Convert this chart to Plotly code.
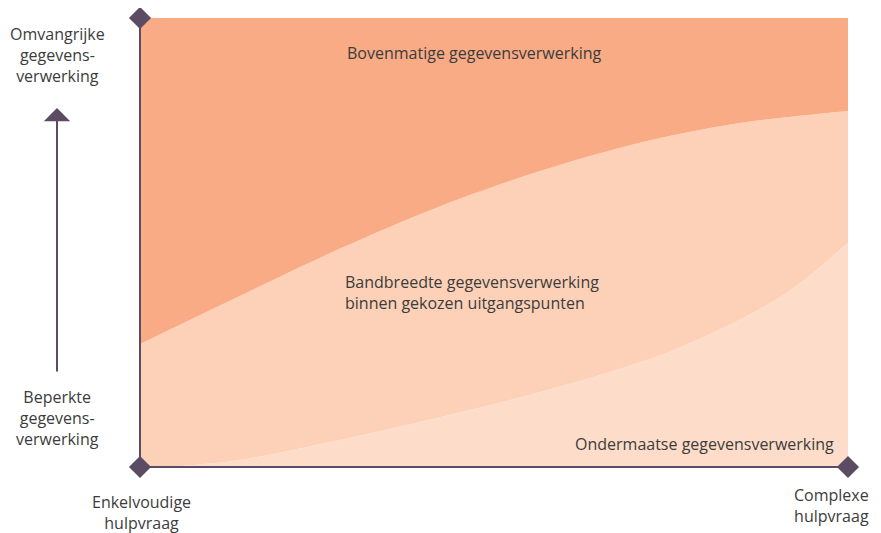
import plotly.graph_objects as go

# ---- data (normalised: x = complexity of help request, y = amount of data processing) ----
upper_x = [0.0, 0.141, 0.282, 0.424, 0.565, 0.706, 0.847, 1.0]
upper_y = [0.274, 0.381, 0.486, 0.581, 0.659, 0.722, 0.766, 0.793]

lower_x = [0.0, 0.035, 0.141, 0.282, 0.424, 0.508, 0.650, 0.750, 0.850, 0.920, 1.0]
lower_y = [0.0, 0.0, 0.0156, 0.060, 0.111, 0.143, 0.205, 0.258, 0.330, 0.395, 0.499]

band_labels = ["Bovenmatige gegevensverwerking",
               "Bandbreedte gegevensverwerking<br>binnen gekozen uitgangspunten",
               "Ondermaatse gegevensverwerking"]
y_labels = ["Omvangrijke<br>gegevens-<br>verwerking", "Beperkte<br>gegevens-<br>verwerking"]
x_labels = ["Enkelvoudige<br>hulpvraag", "Complexe<br>hulpvraag"]

TOP_C = "#F8AB85"
MID_C = "#FDD1B7"
LOW_C = "#FDDDC9"
AXIS_C = "#5B4B63"
TEXT_C = "#3C3C3C"
FONT = "Open Sans"

OFF = 8               # page body margin
W, H = 881 - OFF, 533 - OFF
X0, X1 = 140, 848     # page pixel positions of data x=0 and x=1
Y0, Y1 = 467, 18      # page pixel positions of data y=0 and y=1
PAD = 10
sx = (X1 - X0)
sy = (Y0 - Y1)

ML = X0 - PAD - OFF
MT = Y1 - PAD - OFF
PW = sx + 2 * PAD
PH = sy + 2 * PAD
MR = W - ML - PW
MB = H - MT - PH


def px(x):   # page pixel -> data x
    return (x - X0) / sx


def py(y):   # page pixel -> data y
    return (Y0 - y) / sy


def ppx(x):  # page pixel -> paper x
    return (x - OFF - ML) / PW


def ppy(y):  # page pixel -> paper y
    return 1 - (y - OFF - MT) / PH


fig = go.Figure()

# bottom band
fig.add_trace(go.Scatter(x=lower_x, y=lower_y, mode="lines", line=dict(width=0, shape="spline", smoothing=0.9),
                         fill="tozeroy", fillcolor=LOW_C, hoverinfo="skip"))
# middle band
fig.add_trace(go.Scatter(x=upper_x, y=upper_y, mode="lines", line=dict(width=0, shape="spline", smoothing=0.9),
                         fill="tonexty", fillcolor=MID_C, hoverinfo="skip"))
# top band
fig.add_trace(go.Scatter(x=[0, 1], y=[1, 1], mode="lines", line=dict(width=0),
                         fill="tonexty", fillcolor=TOP_C, hoverinfo="skip"))
# axes
fig.add_trace(go.Scatter(x=[0, 0, 1], y=[1, 0, 0], mode="lines", line=dict(color=AXIS_C, width=2),
                         hoverinfo="skip"))
fig.add_trace(go.Scatter(x=[0, 0, 1], y=[1, 0, 0], mode="markers", cliponaxis=False,
                         marker=dict(symbol="diamond", size=17, color=AXIS_C), hoverinfo="skip"))

# arrow
fig.add_annotation(x=ppx(57), y=ppy(108), ax=0, ay=373 - 108, xref="paper", yref="paper",
                   showarrow=True, arrowhead=1, arrowsize=2.2, arrowwidth=2, arrowcolor=AXIS_C, text="")

font = dict(family=FONT, size=16, color=TEXT_C)
fig.add_annotation(x=px(345), y=py(53), text=band_labels[0], showarrow=False, xanchor="left", yanchor="middle",
                   font=font)
fig.add_annotation(x=px(343), y=py(292), text=band_labels[1], showarrow=False, xanchor="left", yanchor="middle",
                   align="left", font=font)
fig.add_annotation(x=px(573), y=py(444), text=band_labels[2], showarrow=False, xanchor="left", yanchor="middle",
                   font=font)
fig.add_annotation(x=ppx(57), y=ppy(55), text=y_labels[0], showarrow=False, xanchor="center", yanchor="middle",
                   align="center", xref="paper", yref="paper", font=font)
fig.add_annotation(x=ppx(57), y=ppy(418), text=y_labels[1], showarrow=False, xanchor="center", yanchor="middle",
                   align="center", xref="paper", yref="paper", font=font)
fig.add_annotation(x=ppx(141), y=ppy(512), text=x_labels[0], showarrow=False, xanchor="center", yanchor="middle",
                   align="center", xref="paper", yref="paper", font=font)
fig.add_annotation(x=ppx(871), y=ppy(506), text=x_labels[1], showarrow=False, xanchor="right", yanchor="middle",
                   align="center", xref="paper", yref="paper", font=font)

fig.update_layout(
    width=W, height=H,
    margin=dict(l=ML, r=MR, t=MT, b=MB, autoexpand=False),
    paper_bgcolor="white", plot_bgcolor="white",
    showlegend=False,
    xaxis=dict(range=[-PAD / sx, 1 + PAD / sx], visible=False, fixedrange=True),
    yaxis=dict(range=[-PAD / sy, 1 + PAD / sy], visible=False, fixedrange=True),
)

fig.write_html("out.html", config={"displayModeBar": False})
